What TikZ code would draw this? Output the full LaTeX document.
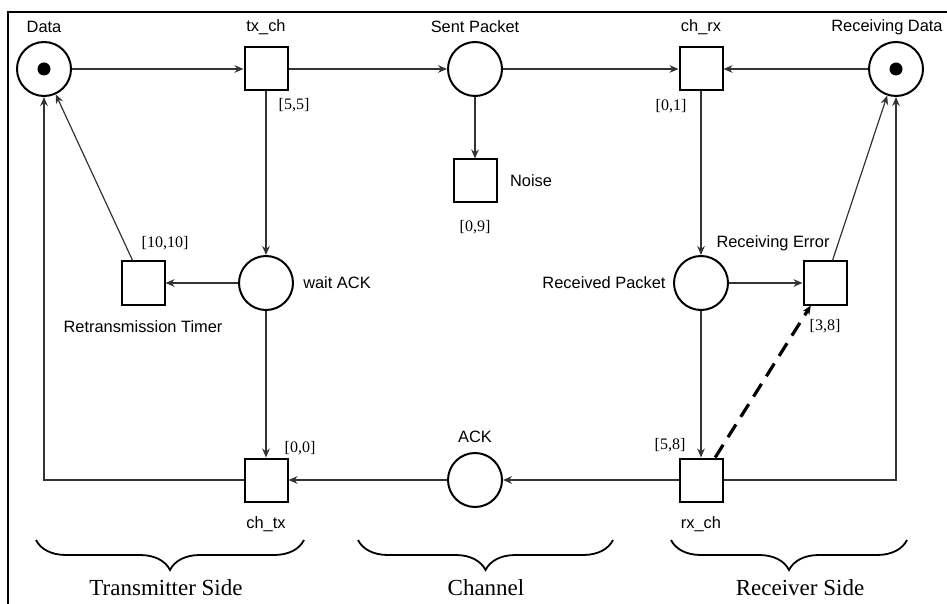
\documentclass[tikz,border=0pt]{standalone}
\usepackage{fontspec}
\setmainfont{Liberation Serif}
\setsansfont{Liberation Sans}
\usetikzlibrary{arrows.meta, positioning, decorations.pathreplacing}

\begin{document}
\begin{tikzpicture}[>={Stealth[length=4.5pt,width=3.8pt]}, x=0.5pt, y=-0.5pt, on grid,
        place/.style={draw, circle, line width=1pt, minimum size=27pt, inner sep=0pt},
        trans/.style={draw, rectangle, line width=1pt, minimum size=21.5pt, inner sep=0pt},
        token/.style={fill, circle, minimum size=6.5pt, inner sep=0pt},
        lbl/.style={font=\sffamily\fontsize{8.2}{10}\selectfont, inner sep=0pt},
        delay/.style={font=\fontsize{8}{10}\selectfont, inner sep=0pt},
        side/.style={font=\fontsize{11.5}{14}\selectfont, inner sep=0pt},
        arc/.style={draw=black!80, line width=0.6pt},
        brace/.style={decorate, decoration={brace, mirror, amplitude=15pt}, line width=0.9pt}]
        \useasboundingbox (0,0) rectangle (947,604);
        \draw[line width=1pt] (8,700) |- (1000,12);
        \node[place] (data) at (44,69) {};
        \node[token] (datadot) at (data) {};
        \node[trans, right=111pt of data] (txch) {};
        \node[place, right=104.5pt of txch] (sent) {};
        \node[trans, right=113pt of sent] (chrx) {};
        \node[place, right=97.5pt of chrx] (recv) {};
        \node[token] (recvdot) at (recv) {};
        \node[trans, below=56pt of sent] (noise) {};
        \node[place, below=107pt of txch] (wait) {};
        \node[trans, left=61.5pt of wait] (retx) {};
        \node[trans, below=98.5pt of wait] (chtx) {};
        \node[place, right=104.5pt of chtx] (ack) {};
        \node[trans, right=113pt of ack] (rxch) {};
        \node[place, above=98.5pt of rxch] (rcvd) {};
        \node[trans, right=62pt of rcvd] (err) {};
        \node[lbl, above=21pt of data] (datalbl) {Data};
        \node[lbl, above=21pt of txch] (txchlbl) {tx\_ch};
        \node[lbl, above=21pt of sent] (sentlbl) {Sent Packet};
        \node[lbl, above=21pt of chrx] (chrxlbl) {ch\_rx};
        \node[lbl, above left=21pt and 4.5pt of recv] (recvlbl) {Receiving Data};
        \node[lbl, right=28pt of noise] (noiselbl) {Noise};
        \node[lbl, right=35.5pt of wait] (waitlbl) {wait ACK};
        \node[lbl, below=22pt of retx] (retxlbl) {Retransmission Timer};
        \node[lbl, left=48.5pt of rcvd] (rcvdlbl) {Received Packet};
        \node[lbl, above left=20pt and 26pt of err] (errlbl) {Receiving Error};
        \node[lbl, above=21.5pt of ack] (acklbl) {ACK};
        \node[lbl, below=22pt of chtx] (chtxlbl) {ch\_tx};
        \node[lbl, below=22pt of rxch] (rxchlbl) {rx\_ch};
        \node[delay, below right=18pt and 14pt of txch] (txchdl) {[5,5]};
        \node[delay, below left=18.5pt and 15pt of chrx] (chrxdl) {[0,1]};
        \node[delay, below=23pt of noise] (noisedl) {[0,9]};
        \node[delay, above right=20pt and 11pt of retx] (retxdl) {[10,10]};
        \node[delay, below=21.5pt of err] (errdl) {[3,8]};
        \node[delay, above right=16pt and 17pt of chtx] (chtxdl) {[0,0]};
        \node[delay, above left=17.5pt and 15.5pt of rxch] (rxchdl) {[5,8]};
        \draw[arc, ->] (data) -- (txch);
        \draw[arc, ->] (txch) -- (sent);
        \draw[arc, ->] (sent) -- (chrx);
        \draw[arc, ->] (recv) -- (chrx);
        \draw[arc, ->] (sent) -- (noise);
        \draw[arc, ->] (txch) -- (wait);
        \draw[arc, ->] (wait) -- (retx);
        \draw[arc, ->] (retx) -- (data);
        \draw[arc, ->] (wait) -- (chtx);
        \draw[arc, ->] (chtx.west) -| (data.south);
        \draw[arc, ->] (chrx) -- (rcvd);
        \draw[arc, ->] (rcvd) -- (err);
        \draw[arc, ->] (err) -- (recv);
        \draw[arc, ->] (rcvd) -- (rxch);
        \draw[arc, ->] (rxch) -- (ack);
        \draw[arc, ->] (ack) -- (chtx);
        \draw[arc, ->] (rxch.east) -| (recv.south);
        \draw[->, line width=1.6pt, dash pattern=on 7.5pt off 4.5pt] (rxch) -- (err);
        \draw[brace] (36,540) -- (304,540);
        \draw[brace] (358,540) -- (613,540);
        \draw[brace] (671,540) -- (907,540);
        \node[side] (txside) at (166,588) {Transmitter Side};
        \node[side] (chside) at (486,588) {Channel};
        \node[side] (rxside) at (800,588) {Receiver Side};
    \end{tikzpicture}
\end{document}
